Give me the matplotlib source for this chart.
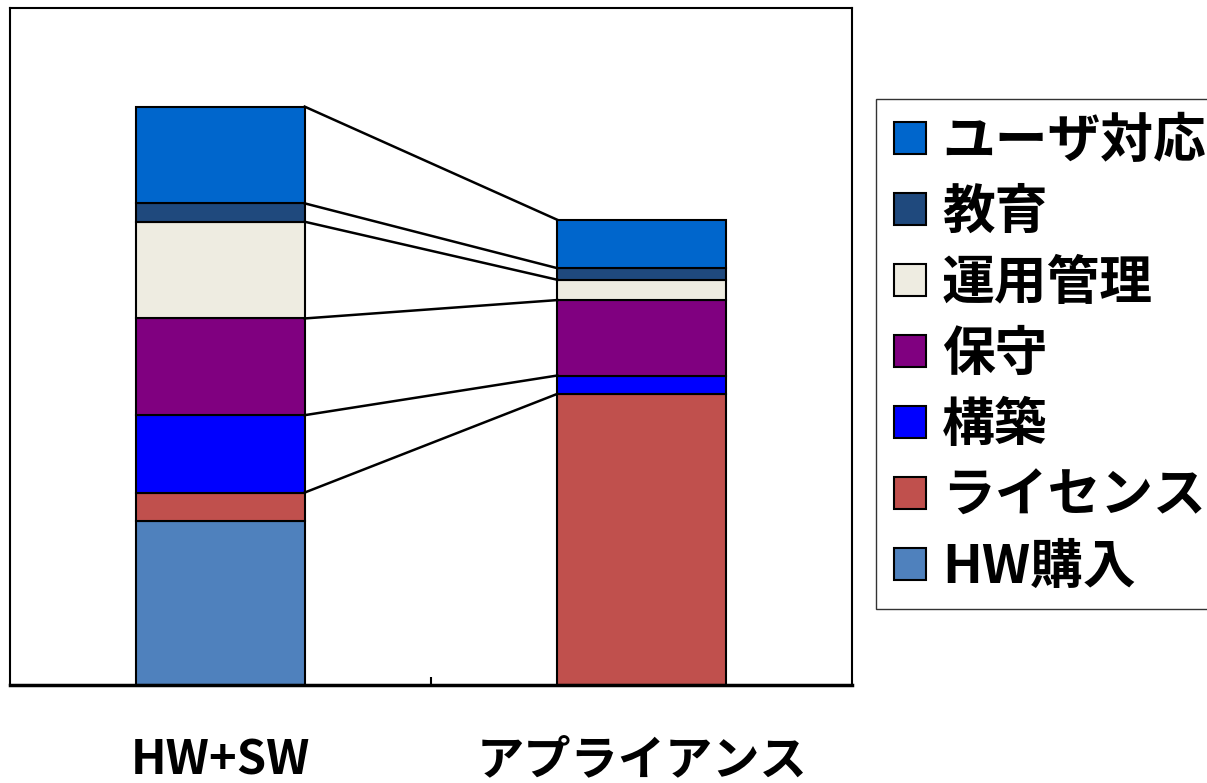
import numpy as np
import matplotlib.pyplot as plt
from matplotlib.lines import Line2D

plt.rcParams['font.family'] = ['Noto Sans CJK JP', 'DejaVu Sans']

categories = ["HW+SW", "アプライアンス"]
series_names = ["HW購入", "ライセンス", "構築", "保守", "運用管理", "教育", "ユーザ対応"]
hw_purchase = [17.0, 0.0]
license_cost = [2.9, 30.1]
build = [8.0, 1.9]
maintenance = [10.0, 7.8]
operations = [10.0, 2.1]
training = [1.9, 1.2]
user_support = [10.0, 5.0]
series_colors = ["#4F81BD", "#C0504D", "#0000FF", "#800080", "#EEECE1", "#1F497D", "#0066CC"]


def main():
    values = [hw_purchase, license_cost, build, maintenance, operations, training, user_support]

    fig = plt.figure(figsize=(12.07, 7.83), dpi=100)
    ax = fig.add_axes([10 / 1207, 98 / 783, 842 / 1207, 677 / 783])

    x = np.arange(len(categories))
    width = 0.4
    bottom = np.zeros(len(categories))
    tops = []
    for vals, color in zip(values, series_colors):
        ax.bar(x, vals, width, bottom=bottom, color=color,
               edgecolor="black", linewidth=1.5, zorder=2)
        bottom = bottom + np.array(vals)
        tops.append(bottom.copy())

    # series lines between the bars (top of each segment except the lowest one)
    for top in tops[1:]:
        ax.plot([x[0] + width / 2, x[1] - width / 2], [top[0], top[1]],
                color="black", linewidth=1.8, zorder=3)

    ax.set_xlim(-0.5, 1.5)
    ax.set_ylim(0, 70)
    ax.set_yticks([])
    ax.set_xticks(x)
    ax.set_xticklabels(categories, fontsize=34, fontweight="bold")
    ax.tick_params(axis="x", length=0, pad=37)
    ax.set_xticks([0.5], minor=True)
    ax.tick_params(axis="x", which="minor", direction="in", length=6, width=1.5)
    for side in ["left", "right", "top"]:
        ax.spines[side].set_linewidth(1.5)
    ax.spines["bottom"].set_linewidth(2.5)

    handles = [Line2D([], [], marker="s", linestyle="none", markersize=23,
                      markerfacecolor=c, markeredgecolor="black", markeredgewidth=1.5)
               for c in series_colors]
    fig.legend(handles[::-1], series_names[::-1], loc="upper left",
               bbox_to_anchor=(876 / 1207, 1 - 99 / 783),
               prop={"size": 38, "weight": "bold"},
               frameon=True, fancybox=False, edgecolor="black",
               handlelength=0.7, handletextpad=0.25, labelspacing=0.34,
               borderpad=0.3, borderaxespad=0)

    fig.savefig("out.png", dpi=100)
    plt.close(fig)


if __name__ == "__main__":
    main()
